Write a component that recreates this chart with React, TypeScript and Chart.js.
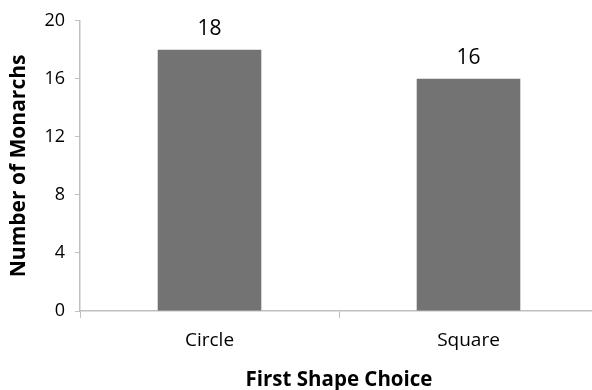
import React, { useEffect, useRef } from "react";
import { Chart, registerables } from "chart.js";

Chart.register(...registerables);

const categories = ["Circle", "Square"];
const monarchCounts = [18, 16];
const yTicks = [0, 4, 8, 12, 16, 20];

const FONT = "'Open Sans', sans-serif";

// Writes each bar's value just above its top edge
const valueLabels = {
  id: "valueLabels",
  afterDatasetsDraw(chart: any) {
    const { ctx } = chart;
    const meta = chart.getDatasetMeta(0);
    ctx.save();
    ctx.font = `21px ${FONT}`;
    ctx.fillStyle = "#000";
    ctx.textAlign = "center";
    ctx.textBaseline = "middle";
    meta.data.forEach((bar: any, i: number) => {
      ctx.fillText(String(monarchCounts[i]), bar.x, bar.y - 21);
    });
    ctx.restore();
  },
};

export default function App() {
  const ref = useRef<HTMLCanvasElement>(null);
  useEffect(() => {
    const chart = new Chart(ref.current!, {
      type: "bar",
      data: {
        labels: categories,
        datasets: [
          {
            data: monarchCounts,
            backgroundColor: "#737373",
            borderWidth: 0,
            barPercentage: 0.4,
            categoryPercentage: 1,
          },
        ],
      },
      options: {
        animation: false,
        responsive: false,
        layout: { padding: { top: 19, left: 0, right: 0, bottom: 0 } },
        plugins: { legend: { display: false }, tooltip: { enabled: false } },
        scales: {
          x: {
            grid: {
              offset: true,
              drawOnChartArea: false,
              drawTicks: true,
              tickLength: 7,
              color: "#bfbfbf",
            },
            border: { color: "#bfbfbf", width: 1.5 },
            ticks: { font: { family: FONT, size: 19 }, color: "#000", padding: 11 },
            title: {
              display: true,
              text: "First Shape Choice",
              font: { family: FONT, size: 20.5, weight: "bold", lineHeight: 1 },
              color: "#000",
              padding: { top: 0, bottom: 0 },
            },
            afterFit(scale: any) {
              scale.height = 79;
            },
          },
          y: {
            min: 0,
            max: 20,
            afterBuildTicks(scale: any) {
              scale.ticks = yTicks.map((v) => ({ value: v }));
            },
            grid: {
              drawOnChartArea: false,
              drawTicks: true,
              tickLength: 5,
              color: "#bfbfbf",
            },
            border: { color: "#bfbfbf", width: 1.5 },
            ticks: { font: { family: FONT, size: 18 }, color: "#000", padding: 10 },
            title: {
              display: true,
              text: "Number of Monarchs",
              font: { family: FONT, size: 21, weight: "bold", lineHeight: 1 },
              color: "#000",
              padding: { top: 8.5, bottom: 0 },
            },
            afterFit(scale: any) {
              scale.width = 80;
            },
          },
        },
      },
      plugins: [valueLabels],
    });
    return () => chart.destroy();
  }, []);
  return (
    <div style={{ position: "fixed", left: 0, top: 0, width: 598, height: 390, background: "#fff" }}>
      <canvas ref={ref} width={598} height={390} style={{ display: "block" }} />
    </div>
  );
}
